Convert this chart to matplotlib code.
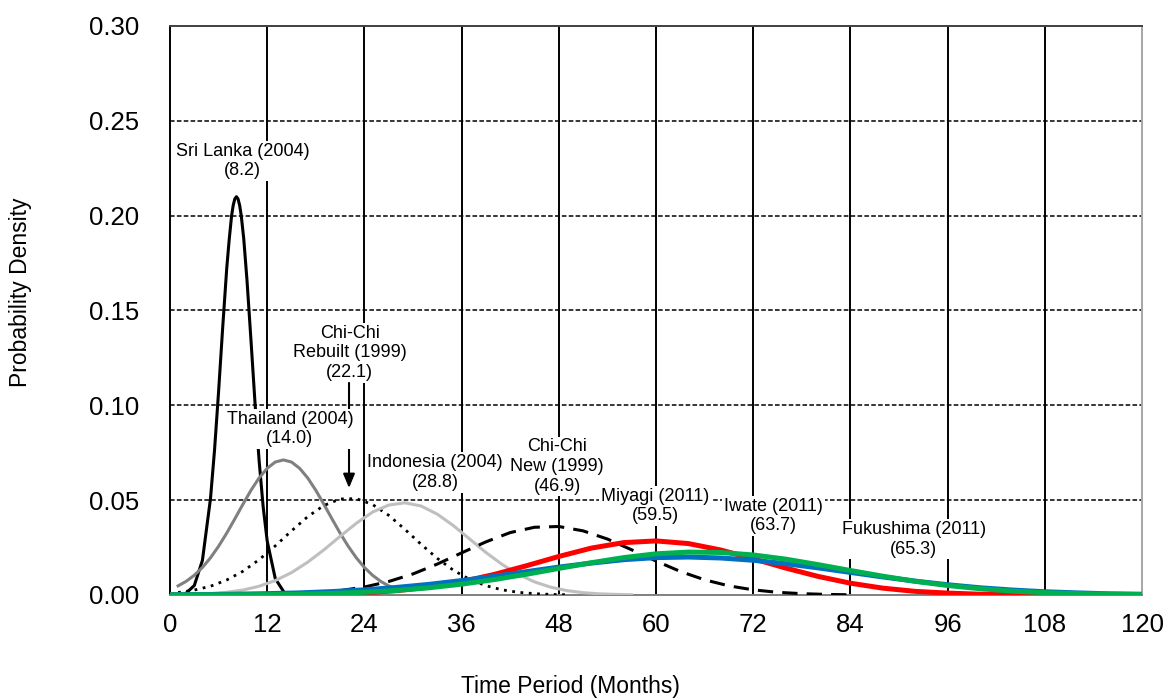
import matplotlib
matplotlib.use("Agg")
import matplotlib.pyplot as plt

plt.rcParams['font.family'] = ['Liberation Sans', 'DejaVu Sans']

# ---- data ----
x_ticks = [0, 12, 24, 36, 48, 60, 72, 84, 96, 108, 120]
y_ticks = [0.00, 0.05, 0.10, 0.15, 0.20, 0.25, 0.30]

srilanka_x = [2, 3, 4, 5, 5.5, 6, 6.5, 7, 7.3, 7.6, 7.8, 8.0, 8.2, 8.4, 8.6, 8.8, 9.1, 9.5, 10, 10.5,
              11, 11.5, 12, 13, 14]
srilanka_y = [0.0010, 0.0050, 0.0182, 0.0509, 0.0765, 0.1074, 0.1407, 0.1720, 0.1870, 0.1998, 0.2054,
              0.2088, 0.2100, 0.2088, 0.2054, 0.1998, 0.1880, 0.1662, 0.1341, 0.1009, 0.0709, 0.0465,
              0.0284, 0.0086, 0.0020]

thailand_x = [1, 2, 3, 4, 5, 6, 7, 8, 9, 10, 11, 12, 13, 14, 15, 16, 17, 18, 19, 20, 21, 22, 23, 24, 25, 26, 27, 28]
thailand_y = [0.0048, 0.0072, 0.0104, 0.0145, 0.0196, 0.0257, 0.0326, 0.0401, 0.0478, 0.0552, 0.0617,
              0.0668, 0.0701, 0.0712, 0.0701, 0.0668, 0.0617, 0.0552, 0.0478, 0.0401, 0.0326, 0.0257,
              0.0196, 0.0145, 0.0104, 0.0072, 0.0048, 0.0031]

chichi_rebuilt_x = [1, 3, 5, 7, 9, 11, 13, 15, 17, 19, 21, 23, 25, 27, 29, 31, 33, 35, 37, 39, 41, 43, 45, 47, 49]
chichi_rebuilt_y = [0.0013, 0.0026, 0.0046, 0.0079, 0.0125, 0.0186, 0.0259, 0.0338, 0.0413, 0.0472, 0.0506,
                    0.0508, 0.0477, 0.0420, 0.0346, 0.0267, 0.0193, 0.0130, 0.0082, 0.0049, 0.0027,
                    0.0014, 0.0007, 0.0003, 0.0001]

indonesia_x = [3, 5, 7, 9, 11, 13, 15, 17, 19, 21, 23, 25, 27, 29, 31, 33, 35, 37, 39, 41, 43, 45, 47, 49, 51, 53, 55, 57]
indonesia_y = [0.0003, 0.0007, 0.0014, 0.0026, 0.0046, 0.0076, 0.0118, 0.0173, 0.0238, 0.0309, 0.0378,
               0.0437, 0.0474, 0.0486, 0.0469, 0.0426, 0.0365, 0.0295, 0.0224, 0.0161, 0.0109, 0.0069,
               0.0041, 0.0023, 0.0012, 0.0006, 0.0003, 0.0001]

chichi_new_x = [21, 24, 27, 30, 33, 36, 39, 42, 45, 48, 51, 54, 57, 60, 63, 66, 69, 72, 75, 78, 81, 84]
chichi_new_y = [0.0023, 0.0042, 0.0071, 0.0111, 0.0163, 0.0222, 0.0280, 0.0329, 0.0357, 0.0361, 0.0338,
                0.0295, 0.0238, 0.0179, 0.0124, 0.0080, 0.0048, 0.0027, 0.0014, 0.0007, 0.0003, 0.0001]

months_4 = [0, 4, 8, 12, 16, 20, 24, 28, 32, 36, 40, 44, 48, 52, 56, 60, 64, 68, 72, 76, 80, 84, 88, 92,
            96, 100, 104, 108, 112, 116, 120]
miyagi_y = [0.0000, 0.0000, 0.0000, 0.0001, 0.0002, 0.0005, 0.0011, 0.0023, 0.0041, 0.0070, 0.0108,
            0.0154, 0.0203, 0.0247, 0.0276, 0.0285, 0.0271, 0.0237, 0.0191, 0.0142, 0.0098, 0.0062,
            0.0036, 0.0019, 0.0010, 0.0004, 0.0002, 0.0001, 0.0000, 0.0000, 0.0000]
iwate_y = [0.0001, 0.0002, 0.0004, 0.0007, 0.0011, 0.0018, 0.0027, 0.0040, 0.0056, 0.0076, 0.0098,
           0.0123, 0.0147, 0.0168, 0.0186, 0.0197, 0.0200, 0.0195, 0.0183, 0.0165, 0.0143, 0.0119,
           0.0095, 0.0073, 0.0054, 0.0038, 0.0026, 0.0017, 0.0011, 0.0006, 0.0004]
fukushima_y = [0.0000, 0.0001, 0.0001, 0.0002, 0.0004, 0.0008, 0.0014, 0.0024, 0.0038, 0.0057, 0.0081,
               0.0109, 0.0140, 0.0170, 0.0197, 0.0217, 0.0226, 0.0224, 0.0211, 0.0189, 0.0160, 0.0129,
               0.0099, 0.0072, 0.0050, 0.0033, 0.0020, 0.0012, 0.0007, 0.0004, 0.0002]

labels = ["Sri Lanka (2004)\n(8.2)", "Thailand (2004)\n(14.0)", "Chi-Chi\nRebuilt (1999)\n(22.1)",
          "Indonesia (2004)\n(28.8)", "Chi-Chi\nNew (1999)\n(46.9)", "Miyagi (2011)\n(59.5)",
          "Iwate (2011)\n(63.7)", "Fukushima (2011)\n(65.3)"]
label_x = [8.95, 14.8, 22.2, 32.7, 47.8, 59.9, 74.5, 91.8]
label_y = [0.2288, 0.0875, 0.1276, 0.0646, 0.0677, 0.0470, 0.0417, 0.0294]

arrow_x = 22.1
arrow_from = 0.1118
arrow_to = 0.0564

# ---- figure ----
fig = plt.figure(figsize=(11.7, 6.98), dpi=100)
ax = fig.add_axes([0.1453, 0.1476, 0.8308, 0.8152])

ax.plot(srilanka_x, srilanka_y, color='black', lw=2.2, zorder=3)
ax.plot(thailand_x, thailand_y, color='#808080', lw=2.2, zorder=3)
ax.plot(chichi_rebuilt_x, chichi_rebuilt_y, color='black', lw=2.0, ls=(0, (1, 2)), zorder=3)
ax.plot(indonesia_x, indonesia_y, color='#BFBFBF', lw=2.2, zorder=3)
ax.plot(chichi_new_x, chichi_new_y, color='black', lw=2.2, ls=(0, (5, 3)), zorder=3)
ax.plot(months_4, miyagi_y, color='#FF0000', lw=3.6, zorder=4)
ax.plot(months_4, iwate_y, color='#0070C0', lw=3.6, zorder=4)
ax.plot(months_4, fukushima_y, color='#00B050', lw=3.6, zorder=4)

ax.set_xlim(x_ticks[0], x_ticks[-1])
ax.set_ylim(y_ticks[0], y_ticks[-1])
ax.set_xticks(x_ticks)
ax.set_yticks(y_ticks)
ax.set_yticklabels([f"{v:.2f}" for v in y_ticks])
ax.tick_params(axis='both', length=0, labelsize=18.5)
ax.tick_params(axis='y', pad=22)
ax.tick_params(axis='x', pad=13)

ax.set_axisbelow(True)
ax.xaxis.grid(True, color='black', lw=1.4, ls='-')
ax.yaxis.grid(True, color='black', lw=1.1, ls=(0, (3, 1.5)))
xg = ax.xaxis.get_gridlines()
xg[0].set_visible(False)
xg[-1].set_visible(False)
yg = ax.yaxis.get_gridlines()
yg[0].set_visible(False)
yg[-1].set_visible(False)

ax.spines['left'].set_color('black')
ax.spines['left'].set_linewidth(1.4)
ax.spines['top'].set_color('#404040')
ax.spines['top'].set_linewidth(1.4)
ax.spines['right'].set_color('#A6A6A6')
ax.spines['right'].set_linewidth(1.4)
ax.spines['bottom'].set_color('#808080')
ax.spines['bottom'].set_linewidth(1.4)

ax.set_xlabel("Time Period (Months)", fontsize=16.5, va='center')
ax.set_ylabel("Probability Density", fontsize=16.5, va='center')
ax.xaxis.set_label_coords(0.4115, -0.1617)
ax.yaxis.set_label_coords(-0.1543, 0.532)

for i, (t, lx, ly) in enumerate(zip(labels, label_x, label_y)):
    z = 8 if i == 2 else 10
    ax.text(lx, ly, t, ha='center', va='center', fontsize=13, zorder=z,
            bbox=dict(boxstyle='square,pad=0.1', facecolor='white', edgecolor='none'))

ax.annotate('', xy=(arrow_x, arrow_to), xytext=(arrow_x, arrow_from), zorder=9,
            arrowprops=dict(arrowstyle='-|>,head_length=0.6,head_width=0.25', color='black',
                            lw=1.5, mutation_scale=14, shrinkA=0, shrinkB=0))

fig.savefig("out.png", dpi=100)
